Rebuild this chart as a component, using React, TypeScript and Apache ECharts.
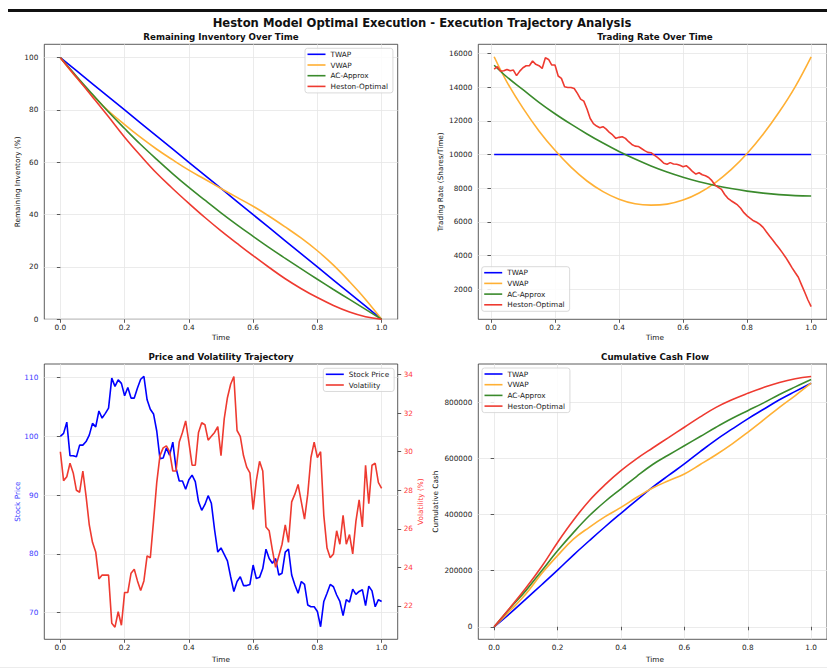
import React, { useEffect, useRef } from "react";
import * as echarts from "echarts";

const FONT = "DejaVu Sans";

// ---------- Data ----------
const STRATEGIES = ["TWAP", "VWAP", "AC-Approx", "Heston-Optimal"];
const COLORS: Record<string, string> = {
  TWAP: "#0000ff",
  VWAP: "#ffb034",
  "AC-Approx": "#3a8a2c",
  "Heston-Optimal": "#ee3a30",
};

const X_TICKS = [0, 0.2, 0.4, 0.6, 0.8, 1.0];

// Remaining inventory (%), sampled every 0.05
const INV_T = [0, 0.05, 0.1, 0.15, 0.2, 0.25, 0.3, 0.35, 0.4, 0.45, 0.5, 0.55, 0.6, 0.65, 0.7, 0.75, 0.8, 0.85, 0.9, 0.95, 1.0];
const INV_TWAP = [100, 95, 90, 85, 80, 75, 70, 65, 60, 55, 50, 45, 40, 35, 30, 25, 20, 15, 10, 5, 0];
const INV_VWAP = [100, 92.4, 85.7, 79.6, 74.4, 69.5, 65.0, 60.9, 57.0, 53.5, 50.0, 46.6, 43.2, 39.4, 35.3, 31.0, 26.2, 20.7, 14.4, 7.6, 0];
const INV_AC = [100, 92.9, 86.0, 79.2, 72.9, 66.8, 61.1, 55.6, 50.4, 45.5, 40.7, 36.1, 31.7, 27.4, 23.3, 19.3, 15.3, 11.4, 7.6, 3.8, 0];
const INV_HESTON = [100, 92.5, 85.0, 77.4, 69.6, 62.5, 55.8, 49.9, 44.3, 38.9, 33.8, 29.0, 24.3, 19.8, 15.5, 11.7, 8.3, 5.3, 2.8, 1.0, 0];

// Trading rate (shares/time)
const RATE_T = [0.01, 0.05, 0.1, 0.15, 0.2, 0.25, 0.3, 0.35, 0.4, 0.45, 0.5, 0.55, 0.6, 0.65, 0.7, 0.75, 0.8, 0.85, 0.9, 0.95, 1.0];
const RATE_TWAP = [10000, 10000, 10000, 10000, 10000, 10000, 10000, 10000, 10000, 10000, 10000, 10000, 10000, 10000, 10000, 10000, 10000, 10000, 10000, 10000, 10000];
const RATE_VWAP = [15800, 14300, 12750, 11400, 10250, 9250, 8430, 7800, 7350, 7080, 7000, 7060, 7300, 7720, 8320, 9100, 10060, 11200, 12520, 14020, 15800];
const RATE_AC = [15300, 14600, 13850, 13100, 12420, 11800, 11220, 10680, 10180, 9730, 9320, 8960, 8650, 8380, 8160, 7980, 7830, 7710, 7620, 7560, 7540];
const HESTON_T = [
  0.01, 0.02, 0.03, 0.04, 0.05, 0.06, 0.07, 0.08, 0.09, 0.1,
  0.11, 0.12, 0.13, 0.14, 0.15, 0.16, 0.17, 0.18, 0.19, 0.2,
  0.21, 0.22, 0.23, 0.24, 0.25, 0.26, 0.27, 0.28, 0.29, 0.3,
  0.31, 0.32, 0.33, 0.34, 0.35, 0.36, 0.37, 0.38, 0.39, 0.4,
  0.41, 0.42, 0.43, 0.44, 0.45, 0.46, 0.47, 0.48, 0.49, 0.5,
  0.51, 0.52, 0.53, 0.54, 0.55, 0.56, 0.57, 0.58, 0.59, 0.6,
  0.61, 0.62, 0.63, 0.64, 0.65, 0.66, 0.67, 0.68, 0.69, 0.7,
  0.71, 0.72, 0.73, 0.74, 0.75, 0.76, 0.77, 0.78, 0.79, 0.8,
  0.81, 0.82, 0.83, 0.84, 0.85, 0.86, 0.87, 0.88, 0.89, 0.9,
  0.91, 0.92, 0.93, 0.94, 0.95, 0.96, 0.97, 0.98, 0.99, 1.0,
];
const RATE_HESTON = [
  15070, 15210, 14950, 14970, 15050, 14970, 15010, 14680, 14950, 15150,
  15270, 15270, 15550, 15350, 15270, 15110, 15740, 15640, 15310, 15310,
  14660, 14520, 14020, 13980, 13980, 13920, 13630, 13290, 13170, 12700,
  12140, 11830, 11690, 11590, 11650, 11510, 11310, 11160, 10960, 11020,
  11060, 10960, 10760, 10600, 10500, 10480, 10360, 10230, 10130, 10110,
  9970, 9830, 9670, 9480, 9420, 9520, 9440, 9420, 9360, 9280,
  9340, 9180, 8980, 8840, 8920, 8800, 8740, 8640, 8450, 8190,
  8050, 7930, 7630, 7400, 7260, 7140, 7010, 6810, 6550, 6360,
  6210, 6070, 5980, 5860, 5680, 5420, 5170, 4930, 4680, 4440,
  4180, 3910, 3610, 3290, 3000, 2720, 2270, 1830, 1370, 980,
];

// Price & volatility path
const PATH_T = [0, ...HESTON_T];
const PRICE = [
  100.0, 100.5, 102.4, 96.7, 96.7, 96.5, 98.5, 98.5, 99.1, 100.2,
  102.2, 101.6, 104.3, 103.1, 103.9, 104.8, 109.9, 108.5, 109.6, 109.0,
  106.9, 108.3, 106.5, 106.5, 108.2, 109.7, 110.2, 106.2, 104.6, 103.8,
  100.9, 96.2, 96.3, 98.0, 96.8, 99.0, 94.6, 92.4, 92.4, 91.0,
  92.6, 93.4, 92.3, 88.9, 87.4, 88.4, 89.9, 88.6, 84.1, 80.3,
  81.0, 79.9, 78.8, 76.1, 73.6, 75.3, 76.1, 74.6, 74.6, 74.8,
  78.1, 75.8, 76.0, 77.5, 80.8, 79.2, 78.4, 79.2, 76.4, 76.7,
  80.3, 80.8, 76.4, 74.7, 73.3, 75.3, 74.8, 71.3, 71.0, 71.0,
  70.2, 67.6, 71.9, 73.3, 74.8, 74.4, 73.0, 71.9, 69.5, 72.2,
  71.8, 74.0, 73.1, 73.6, 73.9, 71.2, 74.5, 73.7, 71.0, 72.2, 71.9,
];
const VOL = [
  30.0, 28.5, 28.7, 29.4, 28.9, 28.0, 27.9, 29.0, 27.7, 26.2,
  25.3, 24.8, 23.4, 23.6, 23.6, 23.6, 21.1, 20.9, 21.7, 21.0,
  22.7, 22.7, 23.7, 23.9, 23.3, 22.8, 23.3, 24.6, 24.5, 26.4,
  28.4, 29.8, 30.2, 30.3, 30.0, 29.0, 29.0, 30.5, 31.0, 31.6,
  30.5, 29.3, 29.3, 31.0, 31.5, 31.4, 30.6, 30.8, 31.0, 31.3,
  29.8, 31.7, 32.8, 33.5, 33.9, 31.1, 30.8, 29.8, 29.2, 28.9,
  27.0, 28.5, 29.5, 29.0, 26.1, 25.9, 24.9, 24.0, 24.6, 25.2,
  26.2, 25.3, 27.4, 27.8, 28.3, 27.4, 26.5, 27.8, 29.7, 30.5,
  29.7, 30.0, 26.7, 25.0, 24.5, 24.7, 25.9, 25.2, 26.7, 25.2,
  25.7, 24.7, 26.4, 27.5, 26.1, 29.3, 27.3, 29.3, 29.4, 28.4, 28.1,
];

// Cumulative cash
const CASH_T = INV_T;
const CASH_TWAP = [0, 48000, 99000, 150000, 202000, 256000, 307000, 357000, 405000, 452000, 498000, 540000, 581000, 625000, 667000, 705000, 742000, 776000, 810000, 840000, 869000];
const CASH_VWAP = [0, 57000, 117000, 190000, 254000, 313000, 355000, 393000, 426000, 462000, 495000, 521000, 545000, 579000, 614000, 652000, 694000, 738000, 783000, 825000, 869000];
const CASH_AC = [0, 66000, 129000, 200000, 271000, 336000, 396000, 447000, 492000, 537000, 579000, 613000, 646000, 679000, 712000, 743000, 771000, 799000, 829000, 856000, 882000];
const CASH_HESTON = [0, 68000, 138000, 215000, 301000, 380000, 450000, 507000, 557000, 600000, 638000, 675000, 712000, 749000, 783000, 810000, 833000, 854000, 872000, 885000, 893000];

const INV_TICKS = [0, 20, 40, 60, 80, 100];
const RATE_TICKS = [2000, 4000, 6000, 8000, 10000, 12000, 14000, 16000];
const PRICE_TICKS = [70, 80, 90, 100, 110];
const VOL_TICKS = [22, 24, 26, 28, 30, 32, 34];
const CASH_TICKS = [0, 200000, 400000, 600000, 800000];

// ---------- Helpers ----------
const pairs = (xs: number[], ys: number[]) => xs.map((x, i) => [x, ys[i]]);

const TICK_FS = 7.3;
const GRID_LINE = { show: true, lineStyle: { color: "#e6e6e6", width: 0.8 } };

function xAx(gridIndex: number, min: number, max: number) {
  return {
    type: "value",
    gridIndex,
    min,
    max,
    axisLine: { show: false },
    axisTick: { show: true, length: 3.5, lineStyle: { color: "#333", width: 0.8 }, customValues: X_TICKS },
    axisLabel: {
      customValues: X_TICKS,
      formatter: (v: number) => v.toFixed(1),
      fontFamily: FONT,
      fontSize: TICK_FS,
      color: "#222",
      margin: 5,
    },
    splitLine: GRID_LINE,
  };
}

function yAx(gridIndex: number, min: number, max: number, ticks: number[], opts: any = {}) {
  return {
    type: "value",
    gridIndex,
    min,
    max,
    position: opts.position || "left",
    axisLine: { show: false },
    axisTick: { show: true, length: 3.5, lineStyle: { color: "#333", width: 0.8 }, customValues: ticks },
    axisLabel: {
      customValues: ticks,
      formatter: (v: number) => String(Math.round(v)),
      fontFamily: FONT,
      fontSize: TICK_FS,
      color: opts.labelColor || "#222",
      margin: 6,
    },
    splitLine: opts.noSplit ? { show: false } : GRID_LINE,
  };
}

function line(name: string, data: number[][], xi: number, yi: number, color: string, smooth: any = false) {
  return {
    type: "line",
    name,
    data,
    xAxisIndex: xi,
    yAxisIndex: yi,
    symbol: "none",
    smooth,
    lineStyle: { color, width: 1.6 },
    itemStyle: { color },
    emphasis: { disabled: true },
  };
}

const legendBase = {
  orient: "vertical",
  icon: "path://M0,0h18v1.6h-18z",
  itemWidth: 18,
  itemHeight: 8,
  itemGap: 3.7,
  padding: [2.5, 5, 3, 2.5],
  borderColor: "#d0d0d0",
  borderWidth: 0.8,
  borderRadius: 2.5,
  backgroundColor: "rgba(255,255,255,0.85)",
  selectedMode: false,
  textStyle: { fontFamily: FONT, fontSize: 7.3, color: "#222" },
};

function txt(text: string, x: number, y: number, o: any = {}) {
  return {
    type: "text",
    x,
    y,
    rotation: o.rotation || 0,
    z: 100,
    style: {
      text,
      fill: o.color || "#111",
      font: `${o.bold ? "bold " : ""}${o.size || 7.3}px '${FONT}'`,
      align: "center",
      verticalAlign: "middle",
    },
  };
}

// ---------- Layout ----------
const GL = { left: 44.3, width: 353.4 };
const GR = { left: 478.3, width: 353.5 };
const TOP1 = 44.3, H1 = 275;
const TOP2 = 364, H2 = 275.3;

export default function App() {
  const ref = useRef<HTMLDivElement>(null);
  useEffect(() => {
    const chart = echarts.init(ref.current!, null, { renderer: "svg", width: 827, height: 669 });
    const gridStyle = { show: true, borderColor: "#333", borderWidth: 0.8, backgroundColor: "transparent", containLabel: false };
    const option: any = {
      animation: false,
      backgroundColor: "#ffffff",
      grid: [
        { ...gridStyle, left: GL.left, width: GL.width, top: TOP1, height: H1 },
        { ...gridStyle, left: GR.left, width: GR.width, top: TOP1, height: H1 },
        { ...gridStyle, left: GL.left, width: GL.width, top: TOP2, height: H2 },
        { ...gridStyle, left: GR.left, width: GR.width, top: TOP2, height: H2 },
      ],
      xAxis: [xAx(0, -0.05, 1.05), xAx(1, -0.0395, 1.0495), xAx(2, -0.05, 1.05), xAx(3, -0.05, 1.05)],
      yAxis: [
        yAx(0, 0, 105.1, INV_TICKS),
        yAx(1, 225, 16540, RATE_TICKS),
        yAx(2, 65.46, 112.3, PRICE_TICKS, { labelColor: "#3a3aff" }),
        yAx(2, 20.27, 34.55, VOL_TICKS, { position: "right", labelColor: "#ff3a3a", noSplit: true }),
        yAx(3, -44650, 937650, CASH_TICKS),
      ],
      legend: [
        { ...legendBase, left: 305, top: 48.3, data: STRATEGIES },
        { ...legendBase, left: 481.7, top: 266.7, data: STRATEGIES },
        { ...legendBase, left: 323.3, top: 368.3, data: ["Stock Price", "Volatility"] },
        { ...legendBase, left: 482, top: 368, data: STRATEGIES },
      ],
      series: [
        line("TWAP", pairs(INV_T, INV_TWAP), 0, 0, COLORS["TWAP"]),
        line("VWAP", pairs(INV_T, INV_VWAP), 0, 0, COLORS["VWAP"], 0.4),
        line("AC-Approx", pairs(INV_T, INV_AC), 0, 0, COLORS["AC-Approx"], 0.4),
        line("Heston-Optimal", pairs(INV_T, INV_HESTON), 0, 0, COLORS["Heston-Optimal"], 0.4),

        line("TWAP", pairs(RATE_T, RATE_TWAP), 1, 1, COLORS["TWAP"]),
        line("VWAP", pairs(RATE_T, RATE_VWAP), 1, 1, COLORS["VWAP"], 0.4),
        line("AC-Approx", pairs(RATE_T, RATE_AC), 1, 1, COLORS["AC-Approx"], 0.4),
        line("Heston-Optimal", pairs(HESTON_T, RATE_HESTON), 1, 1, COLORS["Heston-Optimal"]),

        line("Stock Price", pairs(PATH_T, PRICE), 2, 2, "#0000ff"),
        line("Volatility", pairs(PATH_T, VOL), 2, 3, "#ee3a30"),

        line("TWAP", pairs(CASH_T, CASH_TWAP), 3, 4, COLORS["TWAP"], 0.4),
        line("VWAP", pairs(CASH_T, CASH_VWAP), 3, 4, COLORS["VWAP"], 0.4),
        line("AC-Approx", pairs(CASH_T, CASH_AC), 3, 4, COLORS["AC-Approx"], 0.4),
        line("Heston-Optimal", pairs(CASH_T, CASH_HESTON), 3, 4, COLORS["Heston-Optimal"], 0.4),
      ],
      graphic: [
        { type: "rect", shape: { x: 8, y: 9, width: 819, height: 3 }, style: { fill: "#111" }, z: 100 },
        { type: "rect", shape: { x: 0, y: 667, width: 827, height: 1 }, style: { fill: "#ececec" }, z: 100 },
        txt("Heston Model Optimal Execution - Execution Trajectory Analysis", 422, 22.5, { bold: true, size: 11.6 }),
        txt("Remaining Inventory Over Time", 221, 36.5, { bold: true, size: 8.7 }),
        txt("Trading Rate Over Time", 655, 36.5, { bold: true, size: 8.7 }),
        txt("Price and Volatility Trajectory", 221, 356.5, { bold: true, size: 8.7 }),
        txt("Cumulative Cash Flow", 655, 356.5, { bold: true, size: 8.7 }),
        txt("Time", 221, 337.5),
        txt("Time", 655, 337.5),
        txt("Time", 221, 659),
        txt("Time", 655, 659),
        txt("Remaining Inventory (%)", 17, 181.8, { rotation: Math.PI / 2 }),
        txt("Trading Rate (Shares/Time)", 440.7, 181.8, { rotation: Math.PI / 2 }),
        txt("Stock Price", 17, 501.7, { rotation: Math.PI / 2, color: "#3a3aff" }),
        txt("Volatility (%)", 420.5, 501.7, { rotation: Math.PI / 2, color: "#ff3a3a" }),
        txt("Cumulative Cash", 435.5, 501.7, { rotation: Math.PI / 2 }),
      ],
    };
    chart.setOption(option);
    return () => chart.dispose();
  }, []);
  return (
    <div
      ref={ref}
      style={{ position: "absolute", left: 0, top: 0, width: 827, height: 669, background: "#fff", overflow: "hidden" }}
    />
  );
}
